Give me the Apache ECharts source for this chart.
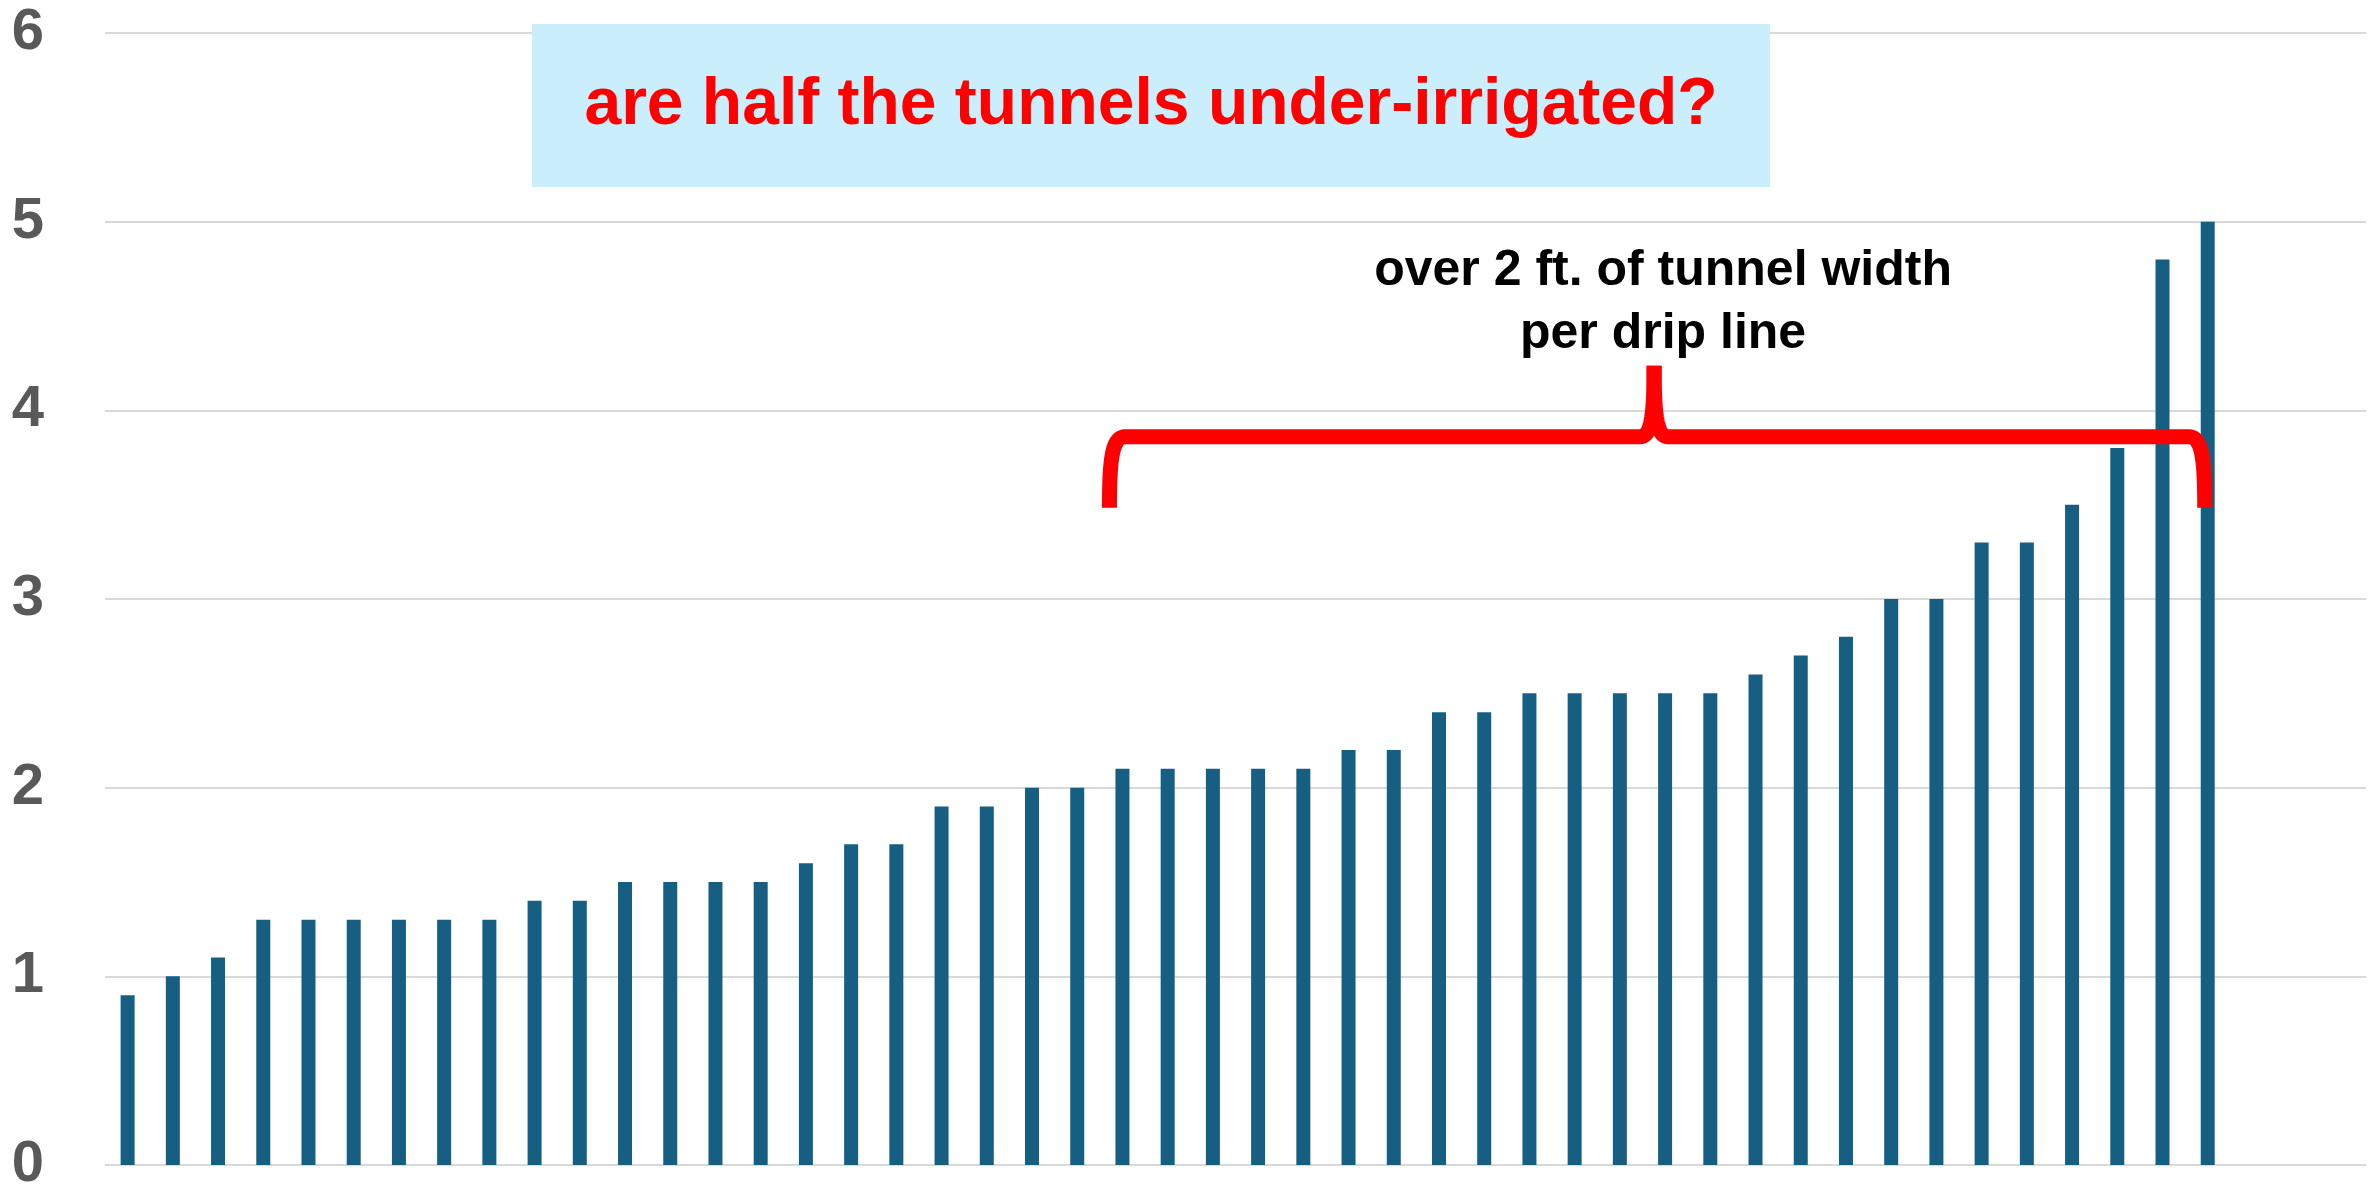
<!DOCTYPE html>
<html>
<head>
<meta charset="utf-8">
<style>
  html, body { margin: 0; padding: 0; background: #fff; }
  #main { width: 2368px; height: 1185px; }
</style>
<script src="https://cdn.jsdelivr.net/npm/echarts@6/dist/echarts.min.js"></script>
</head>
<body>
<div id="main"></div>
<script>
// tunnel number (sorted) and feet of tunnel width per drip line
var tunnels = [];
for (var i = 1; i <= 47; i++) tunnels.push(String(i));
var widthPerLine = [
  0.9, 1.0, 1.1, 1.3, 1.3, 1.3, 1.3, 1.3, 1.3, 1.4,
  1.4, 1.5, 1.5, 1.5, 1.5, 1.6, 1.7, 1.7, 1.9, 1.9,
  2.0, 2.0, 2.1, 2.1, 2.1, 2.1, 2.1, 2.2, 2.2, 2.4,
  2.4, 2.5, 2.5, 2.5, 2.5, 2.5, 2.6, 2.7, 2.8, 3.0,
  3.0, 3.3, 3.3, 3.5, 3.8, 4.8, 5.0
];
var yTicks = [0, 1, 2, 3, 4, 5, 6];

var titleText = 'are half the tunnels under-irrigated?';
var noteText = 'over 2 ft. of tunnel width\nper drip line';

var font = '"Liberation Sans", Arial, sans-serif';
var myChart = echarts.init(document.getElementById('main'));

myChart.setOption({
  animation: false,
  grid: { left: 105, right: 2, top: 33, bottom: 20, containLabel: false, outerBoundsMode: 'none' },
  xAxis: {
    type: 'category',
    data: tunnels,
    max: 49, // chart area leaves room for 3 empty slots on the right
    axisLine: { show: false },
    axisTick: { show: false },
    axisLabel: { show: false },
    splitLine: { show: false }
  },
  yAxis: {
    type: 'value',
    min: yTicks[0],
    max: yTicks[yTicks.length - 1],
    interval: 1,
    axisLine: { show: false },
    axisTick: { show: false },
    axisLabel: {
      margin: 61,
      color: '#595959',
      fontFamily: font,
      fontWeight: 'bold',
      fontSize: 58
    },
    splitLine: { lineStyle: { color: '#d9d9d9', width: 2 } }
  },
  series: [{
    type: 'bar',
    data: widthPerLine,
    barWidth: 14,
    itemStyle: { color: '#165F82' }
  }]
});

// annotations: title box, bracket and its note
var px = function (cat, val) { return myChart.convertToPixel({ gridIndex: 0 }, [cat, val]); };
var L = px(22, 3.86), M = px(34, 3.86), R = px(46, 3.86);
var lx = L[0] - 13, mx = M[0] - 11, rx = R[0] - 3, hy = L[1];
var endY = hy + 71, tipY = hy - 71;

function bez(p0, p1, p2, p3) {
  var pts = [];
  for (var k = 0; k <= 24; k++) {
    var t = k / 24, u = 1 - t;
    pts.push([
      u * u * u * p0[0] + 3 * u * u * t * p1[0] + 3 * u * t * t * p2[0] + t * t * t * p3[0],
      u * u * u * p0[1] + 3 * u * u * t * p1[1] + 3 * u * t * t * p2[1] + t * t * t * p3[1]
    ]);
  }
  return pts;
}
var leftHalf = bez([lx, endY], [lx, hy + 20], [lx + 3, hy], [lx + 16, hy])
  .concat(bez([mx - 14, hy], [mx - 3, hy], [mx, hy - 20], [mx, tipY]));
var rightHalf = bez([mx, tipY], [mx, hy - 20], [mx + 3, hy], [mx + 14, hy])
  .concat(bez([rx - 16, hy], [rx - 3, hy], [rx, hy + 20], [rx, endY]));
var braceStyle = { fill: null, stroke: '#FF0000', lineWidth: 15, lineCap: 'butt', lineJoin: 'round' };

myChart.setOption({
  graphic: [
    {
      type: 'rect', z: 100,
      shape: { x: 532, y: 24, width: 1238, height: 163 },
      style: { fill: '#CAEEFB' }
    },
    {
      type: 'text', z: 101, x: 1151, y: 106,
      style: {
        text: titleText, fill: '#FF0000', fontFamily: font, fontWeight: 'bold',
        fontSize: 66, align: 'center', verticalAlign: 'middle'
      }
    },
    { type: 'polyline', z: 100, shape: { points: leftHalf }, style: braceStyle },
    { type: 'polyline', z: 100, shape: { points: rightHalf }, style: braceStyle },
    {
      type: 'text', z: 101, x: M[0] - 2, y: 303,
      style: {
        text: noteText, fill: '#000000', fontFamily: font, fontWeight: 'bold',
        fontSize: 50, lineHeight: 63, align: 'center', verticalAlign: 'middle'
      }
    }
  ]
});
</script>
</body>
</html>
